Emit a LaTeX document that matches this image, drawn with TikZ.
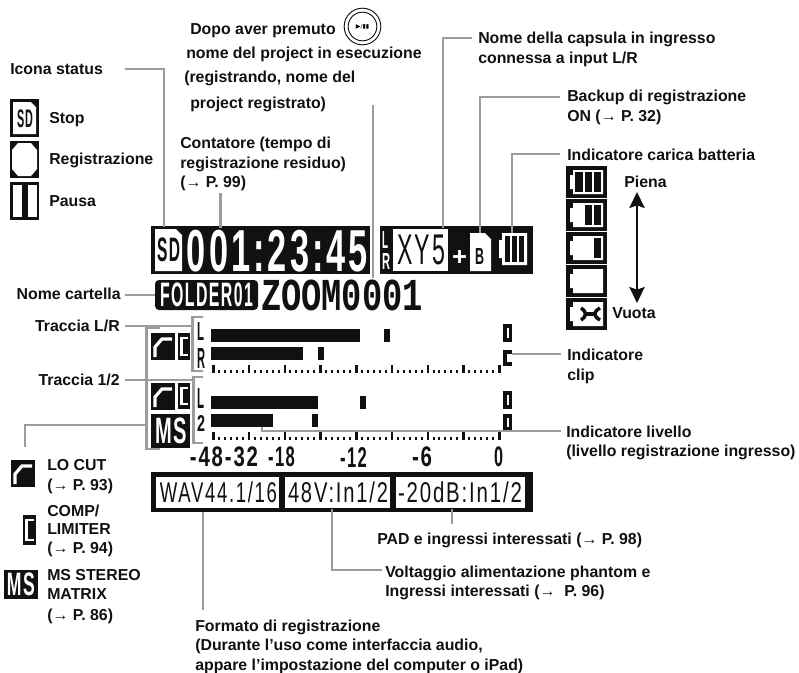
\documentclass[tikz,border=0pt]{standalone}
\usepackage{graphicx}
\usepackage{fontspec}
\setmainfont{Liberation Sans}
\newfontfamily\lcdbold[LetterSpace=9]{Liberation Sans Bold}
\newfontfamily\lcdthin[LetterSpace=9]{Liberation Sans}
\newfontfamily\lcdmono{Liberation Mono Bold}
\usetikzlibrary{arrows.meta}
\definecolor{ink}{HTML}{111111}
\definecolor{leader}{HTML}{9C9C9C}
\tikzset{
  lbl/.style={anchor=west,inner sep=0pt,text height=8.4pt,text depth=0pt,font=\fontsize{11.9}{13}\selectfont\bfseries,text=ink},
  lblr/.style={lbl,anchor=east},
  conn/.style={draw=leader,line width=2.1pt,line join=miter},
  lcdtext/.style={inner sep=0pt,outer sep=0pt}
}
\newcommand{\bx}[5]{\fill[#5] (#1,#2) rectangle (#3,#4);}
\newcommand{\lcd}[7][\lcdbold]{%
  \pgfmathsetlengthmacro{\lcdw}{(#4-#2)*0.75pt}%
  \pgfmathsetlengthmacro{\lcdh}{(#5-#3)*0.75pt}%
  \node[lcdtext,text=#6] at ({(#2+#4)/2},{(#3+#5)/2}) {\resizebox*{\lcdw}{\lcdh}{#1\relax #7}};}
\newcommand{\locut}[2]{\begin{scope}[shift={(#1,#2)}]
  \fill[ink] (0,0) rectangle (24,27);
  \draw[white,line width=2.4pt] (4,24)--(4,14)--(11,6)--(21,6);
\end{scope}}
\newcommand{\compic}[4]{\begin{scope}[shift={(#1,#2)}]
  \fill[ink] (0,0) rectangle (#3,#4);
  \draw[white,line width=1.9pt] ({#3-2.5},5)--(3.5,5)--(3.5,{#4-5})--({#3-2.5},{#4-5});
\end{scope}}
\newcommand{\batt}[2]{\begin{scope}[shift={(566,#1)}]
  \fill[ink] (0,0) rectangle (41,31.5);
  \fill[white] (7,4)--(37,4)--(37,28)--(7,28)--(7,23)--(4,23)--(4,9)--(7,9)--cycle;
  #2
\end{scope}}
\newcommand{\clipbox}[2]{\fill[ink] (503,#1) rectangle (512,#2);
  \fill[white] (506.5,{#1+4}) rectangle (509,{#2-4});}
\newcommand{\ticks}[1]{%
  \foreach \i in {0,...,48}{\fill[ink] ({212+\i*5.96},{#1+4.5}) rectangle ({214+\i*5.96},{#1+8});}
  \foreach \i in {0,...,8}{\fill[ink] ({212+\i*35.75},#1) rectangle ({214.5+\i*35.75},{#1+8});}}
\begin{document}
\begin{tikzpicture}[x=0.75pt,y=-0.75pt]
\useasboundingbox (0,0) rectangle (799,672);
\fill[white] (0,0) rectangle (799,672);

% --- status row
\bx{151}{226}{370}{274}{ink}
\bx{380}{226}{533}{274}{ink}
\fill[white] (155,229)--(176,229)--(182,235)--(182,271)--(155,271)--cycle;
\lcd{157}{238}{180}{262}{ink}{SD}
\lcd{187}{230}{368}{272}{white}{001:23:45}
\lcd{382}{231}{388}{248}{white}{L}
\lcd{382}{253}{390}{269}{white}{R}
\bx{393}{229}{448}{271}{white}
\lcd[\lcdthin]{397}{235}{445}{265}{ink}{XY5}
\lcd{452}{250}{467}{265}{white}{+}
\fill[white] (470,233)--(485,233)--(491,239)--(491,271)--(470,271)--cycle;
\lcd{475}{248}{484}{264}{ink}{B}
\fill[white] (502,233)--(527,233)--(527,265)--(502,265)--(502,258)--(499,258)--(499,240)--(502,240)--cycle;
\bx{505}{236}{510}{262}{ink}
\bx{512}{236}{517}{262}{ink}
\bx{519}{236}{524}{262}{ink}

% --- folder row
\fill[ink,rounded corners=3pt] (155,280) rectangle (258,310);
\lcd{160}{283}{253}{307}{white}{FOLDER01}
\lcd[\lcdmono]{261}{280}{423}{311}{ink}{ZOOM0001}

% --- meters
\lcd{197}{322}{204}{340}{ink}{L}
\lcd{197}{348}{205}{368}{ink}{R}
\lcd{197}{388}{204}{408}{ink}{L}
\lcd{197}{415}{205}{431}{ink}{2}
\bx{211}{329}{360}{342}{ink}
\bx{384}{329}{390}{342}{ink}
\bx{211}{347}{303}{360}{ink}
\bx{318}{347}{324}{360}{ink}
\bx{211}{396}{318}{409}{ink}
\bx{360}{396}{366}{409}{ink}
\bx{211}{414}{273}{427}{ink}
\bx{312}{414}{318}{427}{ink}
\ticks{365}
\ticks{432}
\clipbox{324}{342}
\bx{503}{350}{512}{366}{ink}
\fill[white] (506.5,354) rectangle (512,362);
\clipbox{391}{409}
\clipbox{414}{431}

% --- track icons
\locut{151}{333}
\compic{178}{333}{12}{27}
\locut{151}{383}
\compic{178}{383}{12}{26}
\bx{151}{414}{190}{448}{ink}
\lcd{155}{418}{187}{444}{white}{MS}

% --- scale
\lcd{190}{447}{258}{467}{ink}{-48-32}
\lcd{268}{447}{295}{467}{ink}{-18}
\lcd{340}{447}{367}{467}{ink}{-12}
\lcd{412}{447}{432}{467}{ink}{-6}
\lcd{494}{447}{503}{467}{ink}{0}

% --- bottom bar
\bx{151}{472}{533}{512}{ink}
\bx{156}{477}{279}{508}{white}
\bx{285}{477}{390}{508}{white}
\bx{396}{477}{525}{508}{white}
\lcd[\lcdthin]{160}{482}{277}{503}{ink}{WAV44.1/16}
\lcd[\lcdthin]{288}{482}{388}{503}{ink}{48V:In1/2}
\lcd[\lcdthin]{398}{482}{522}{503}{ink}{-20dB:In1/2}

% --- left status icons
\bx{10}{99}{39}{137}{ink}
\fill[white] (13,102)--(31,102)--(36,107)--(36,134)--(13,134)--cycle;
\lcd{17}{110}{33}{128}{ink}{SD}
\bx{10}{141}{39}{178}{ink}
\fill[white] (18,143)--(31,143)--(37,150)--(37,169)--(31,176)--(18,176)--(12,169)--(12,150)--cycle;
\bx{10}{182}{39}{220}{ink}
\bx{13}{185}{22}{217}{white}
\bx{28}{185}{37}{217}{white}

% --- lower-left icons
\locut{11}{460}
\compic{23}{515}{13}{30}
\bx{4}{570}{38}{599}{ink}
\lcd{7}{573}{35}{596}{white}{MS}

% --- batteries
\batt{166}{\fill[ink] (9,6) rectangle (17,26);\fill[ink] (19,6) rectangle (26,26);\fill[ink] (28,6) rectangle (35,26);}
\batt{199}{\fill[ink] (19,6) rectangle (26,26);\fill[ink] (28,6) rectangle (35,26);}
\batt{232}{\fill[ink] (28,6) rectangle (35,26);}
\batt{265}{}
\batt{298}{\draw[ink,line width=2.6pt] (15,10) .. controls (21,14) and (21,18) .. (15,22);\draw[ink,line width=2.6pt] (34,10) .. controls (27,14) and (27,18) .. (34,22);\draw[ink,line width=2.6pt] (20,16)--(29,16);}

\coordinate (arrT) at (637,192);
\coordinate (arrB) at (637,303);
\draw[ink,line width=1.5pt,{Triangle[length=12pt,width=11.5pt,inset=2pt]}-{Triangle[length=12pt,width=11.5pt,inset=2pt]}] (arrT) -- (arrB);

% --- labels
\node[lbl] (status) at (10,69) {Icona status};
\node[lbl] (stop) at (49,118) {Stop};
\node[lbl] (reg) at (49,159) {Registrazione};
\node[lbl] (pausa) at (49,201) {Pausa};
\node[lbl] (cont1) at (180,143) {Contatore (tempo di};
\node[lbl] (cont2) at (180,163) {registrazione residuo)};
\node[lbl] (cont3) at (180,182) {(→ P. 99)};
\node[lbl] (dopo) at (190,29) {Dopo aver premuto};
\node[lbl] (nome1) at (186,53) {nome del project in esecuzione};
\node[lbl] (nome2) at (184,77) {(registrando, nome del};
\node[lbl] (nome3) at (190,103) {project registrato)};
\node[lbl] (caps1) at (478,38) {Nome della capsula in ingresso};
\node[lbl] (caps2) at (478,58) {connessa a input L/R};
\node[lbl] (back1) at (567,96) {Backup di registrazione};
\node[lbl] (back2) at (567,116) {ON (→ P. 32)};
\node[lbl] (batlab) at (567,155) {Indicatore carica batteria};
\node[lbl] (piena) at (624,182) {Piena};
\node[lbl] (vuota) at (612,313) {Vuota};
\node[lbl] (clip1) at (567,355) {Indicatore};
\node[lbl] (clip2) at (567,375) {clip};
\node[lbl] (liv1) at (566,432) {Indicatore livello};
\node[lbl] (liv2) at (566,451) {(livello registrazione ingresso)};
\node[lblr] (cart) at (121,294) {Nome cartella};
\node[lblr] (trlr) at (120,326) {Traccia L/R};
\node[lblr] (tr12) at (120,380) {Traccia 1/2};
\node[lbl] (lc1) at (47,465) {LO CUT};
\node[lbl] (lc2) at (47,485) {(→ P. 93)};
\node[lbl] (co1) at (47,511) {COMP/};
\node[lbl] (co2) at (47,529) {LIMITER};
\node[lbl] (co3) at (47,548) {(→ P. 94)};
\node[lbl] (ms1) at (47,575) {MS STEREO};
\node[lbl] (ms2) at (47,594) {MATRIX};
\node[lbl] (ms3) at (47,615) {(→ P. 86)};
\node[lbl] (pad) at (377,539) {PAD e ingressi interessati (→ P. 98)};
\node[lbl] (volt1) at (385,572) {Voltaggio alimentazione phantom e};
\node[lbl] (volt2) at (385,591) {Ingressi interessati (→ \ P. 96)};
\node[lbl] (form1) at (195,626) {Formato di registrazione};
\node[lbl] (form2) at (195,645) {(Durante l’uso come interfaccia audio,};
\node[lbl] (form3) at (195,665) {appare l’impostazione del computer o iPad)};

% --- play button
\node[draw=ink,circle,line width=0.7pt,minimum size=27.5pt,inner sep=0pt] (playo) at (362.5,26.5) {};
\node[draw=ink,circle,line width=0.7pt,minimum size=21.5pt,inner sep=0pt,font=\fontspec{DejaVu Sans}\fontsize{4.5}{5}\selectfont] (playi) at (362.5,26.5) {▶/▮▮};

% --- connector ends
\coordinate (a1) at (125,69);   \coordinate (a2) at (164,227);
\coordinate (b1) at (220.5,193);  \coordinate (b2) at (220.5,228);
\coordinate (c1) at (373,105);  \coordinate (c2) at (373,278);
\coordinate (d1) at (472,38);   \coordinate (d2) at (443,228);
\coordinate (e1) at (560,97);   \coordinate (e2) at (480,233);
\coordinate (f1) at (560,154);  \coordinate (f2) at (512,233);
\coordinate (g1) at (561,354);  \coordinate (g2) at (512,354);
\coordinate (h1) at (561,431);  \coordinate (h2) at (262,427);
\coordinate (i1) at (125,295);  \coordinate (i2) at (155,295);
\coordinate (j1) at (125,326);  \coordinate (j2) at (192,326);
\coordinate (k1) at (125,380);  \coordinate (k2) at (193,380);
\coordinate (l1) at (146,425);  \coordinate (l2) at (25,447);
\coordinate (m1) at (203,512);  \coordinate (m2) at (203,610);
\coordinate (n1) at (332,509);  \coordinate (n2) at (382,570);
\coordinate (o1) at (452,509);  \coordinate (o2) at (452,524);
\coordinate (p1) at (203,317);  \coordinate (p2) at (203,371);
\coordinate (q1) at (203,377);  \coordinate (q2) at (203,443);
\coordinate (r1) at (160,328);  \coordinate (r2) at (160,449);

\draw[conn] (a1) -| (a2);
\draw[conn] (b1) -- (b2);
\draw[conn] (c1) -- (c2);
\draw[conn] (d1) -| (d2);
\draw[conn] (e1) -| (e2);
\draw[conn] (f1) -| (f2);
\draw[conn] (g1) -- (g2);
\draw[conn] (h1) -| (h2);
\draw[conn] (i1) -- (i2);
\draw[conn] (j1) -- (j2);
\draw[conn] (k1) -- (k2);
\draw[conn] (l1) -| (l2);
\draw[conn] (m1) -- (m2);
\draw[conn] (n1) |- (n2);
\draw[conn] (o1) -- (o2);
\draw[conn] (p1) -- (192.5,317) -- (192.5,371) -- (p2);
\draw[conn] (q1) -- (193.5,377) -- (193.5,443) -- (q2);
\draw[conn] (r1) -- (146.5,328) -- (146.5,449) -- (r2);
\end{tikzpicture}
\end{document}
